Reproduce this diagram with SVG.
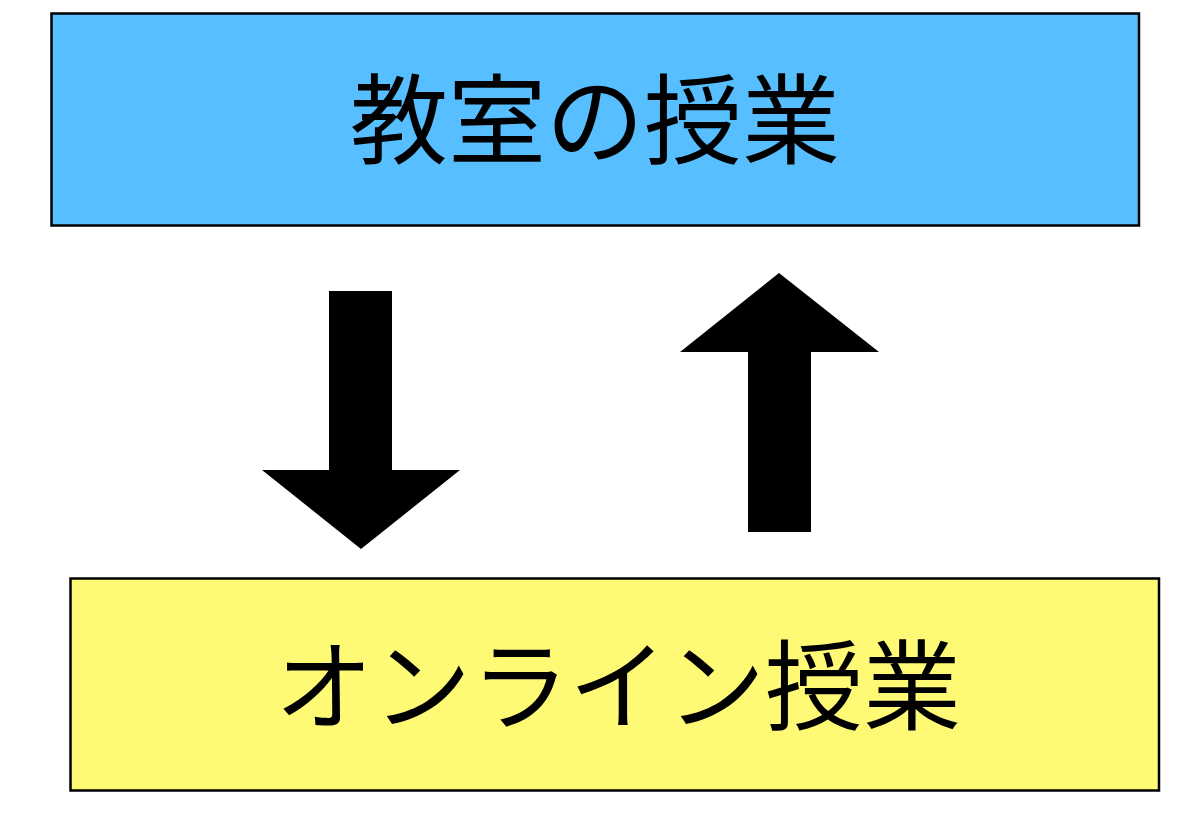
<svg xmlns="http://www.w3.org/2000/svg" width="1200" height="824" viewBox="0 0 1200 824">
<style>
.box{stroke:#000;stroke-width:2.5}
.lbl{font-family:"Noto Sans CJK JP","Noto Sans CJK SC",sans-serif;font-size:98px;fill:#000;text-anchor:middle}
.arr{fill:#000}
</style>
<rect width="1200" height="824" fill="#fff"/>
<g id="node-classroom">
<rect class="box" x="51.5" y="13.5" width="1087.5" height="212" fill="#57bfff"/>
<text class="lbl" x="595" y="156">教室の授業</text>
</g>
<g id="node-online">
<rect class="box" x="70.5" y="578.5" width="1088.5" height="212" fill="#fffa76"/>
<text class="lbl" x="618" y="722">オンライン授業</text>
</g>
<g id="connectors">
<polygon class="arr" points="329,291 392,291 392,470 460,470 361,549 262,470 329,470"/>
<polygon class="arr" points="779,273 879,352 811,352 811,532 748,532 748,352 680,352"/>
</g>
</svg>
